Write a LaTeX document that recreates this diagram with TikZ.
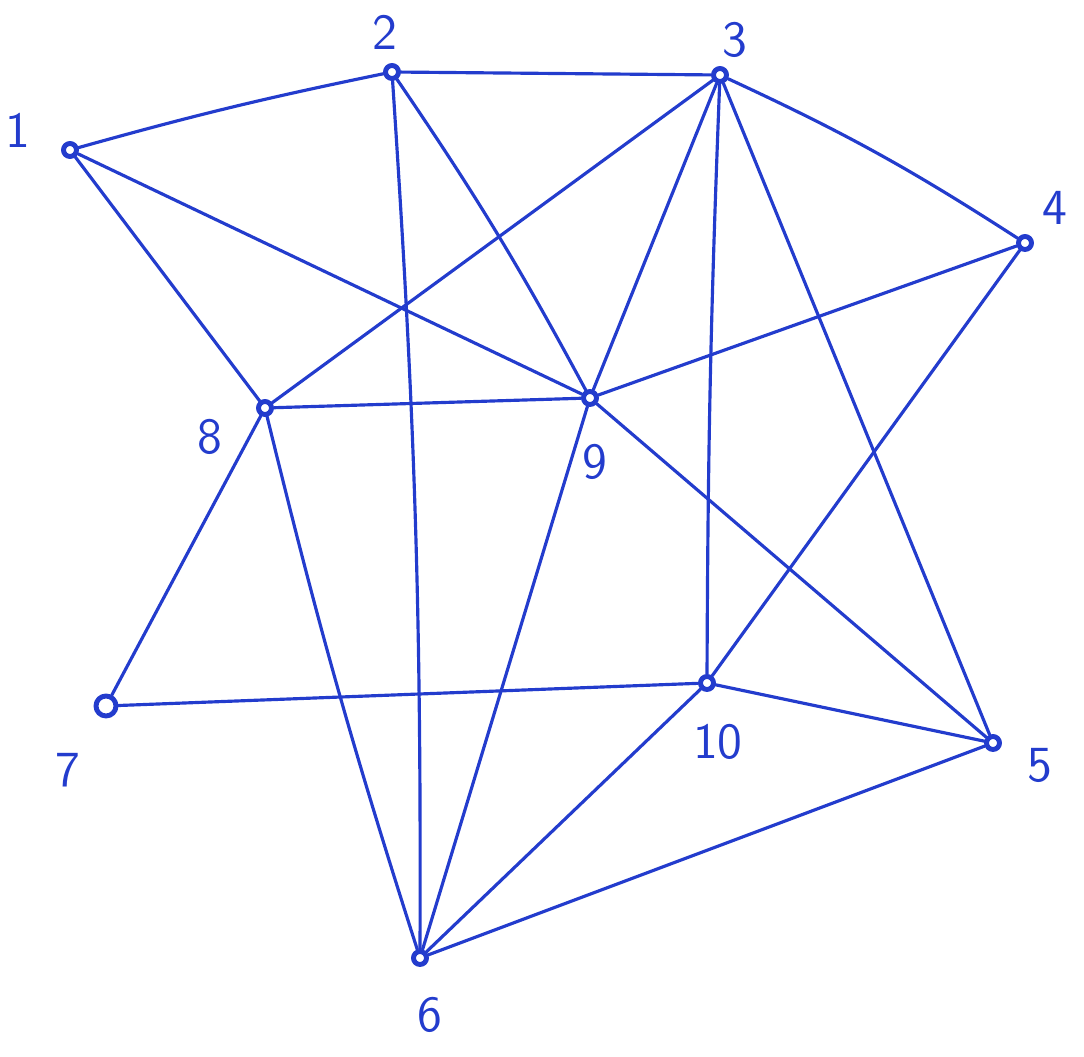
\documentclass[tikz,border=0pt]{standalone}
\usepackage{tikz}

\begin{document}
\begin{tikzpicture}[line join=round, line cap=round,
    vtx/.style={draw=cPen, circle, line width=1.4pt, inner sep=0pt, minimum size=0.13cm},
    lbl/.style={cPen, font=\sffamily\Large},
    edge/.style={draw=cPen, line width=0.9pt}]
  \definecolor{cPen}{RGB}{35, 60, 205}

  \useasboundingbox (0,0) rectangle (10.84,-10.57);

  % vertices
  \node[vtx] (n1) at (0.70,-1.50) {};
  \node[vtx] (n2) at (3.92,-0.72) {};
  \node[vtx] (n3) at (7.20,-0.75) {};
  \node[vtx] (n4) at (10.25,-2.43) {};
  \node[vtx] (n5) at (9.93,-7.43) {};
  \node[vtx] (n6) at (4.20,-9.58) {};
  \node[vtx, minimum size=0.2cm] (n7) at (1.06,-7.06) {};
  \node[vtx] (n8) at (2.65,-4.08) {};
  \node[vtx] (n9) at (5.90,-3.98) {};
  \node[vtx] (n10) at (7.07,-6.83) {};

  % labels
  \node[lbl] (l1) at (0.18,-1.30) {1};
  \node[lbl] (l2) at (3.85,-0.32) {2};
  \node[lbl] (l3) at (7.35,-0.40) {3};
  \node[lbl] (l4) at (10.55,-2.08) {4};
  \node[lbl] (l5) at (10.40,-7.65) {5};
  \node[lbl] (l6) at (4.30,-10.15) {6};
  \node[lbl] (l7) at (0.68,-7.70) {7};
  \node[lbl] (l8) at (2.10,-4.37) {8};
  \node[lbl] (l9) at (5.95,-4.62) {9};
  \node[lbl] (l10) at (7.18,-7.42) {10};

  % edges
  \path[edge] (n1) to[bend left=2] (n2);
  \path[edge] (n1) -- (n9);
  \path[edge] (n1) -- (n8);
  \path[edge] (n2) -- (n3);
  \path[edge] (n2) to[bend left=2] (n6);
  \path[edge] (n2) to[bend left=3] (n9);
  \path[edge] (n3) to[bend left=4] (n4);
  \path[edge] (n3) -- (n8);
  \path[edge] (n3) -- (n9);
  \path[edge] (n3) to[bend right=1] (n10);
  \path[edge] (n3) -- (n5);
  \path[edge] (n4) -- (n9);
  \path[edge] (n4) -- (n10);
  \path[edge] (n8) -- (n9);
  \path[edge] (n8) -- (n7);
  \path[edge] (n8) to[bend right=2] (n6);
  \path[edge] (n9) -- (n6);
  \path[edge] (n9) -- (n5);
  \path[edge] (n7) -- (n10);
  \path[edge] (n10) -- (n5);
  \path[edge] (n10) -- (n6);
  \path[edge] (n6) -- (n5);
\end{tikzpicture}
\end{document}
